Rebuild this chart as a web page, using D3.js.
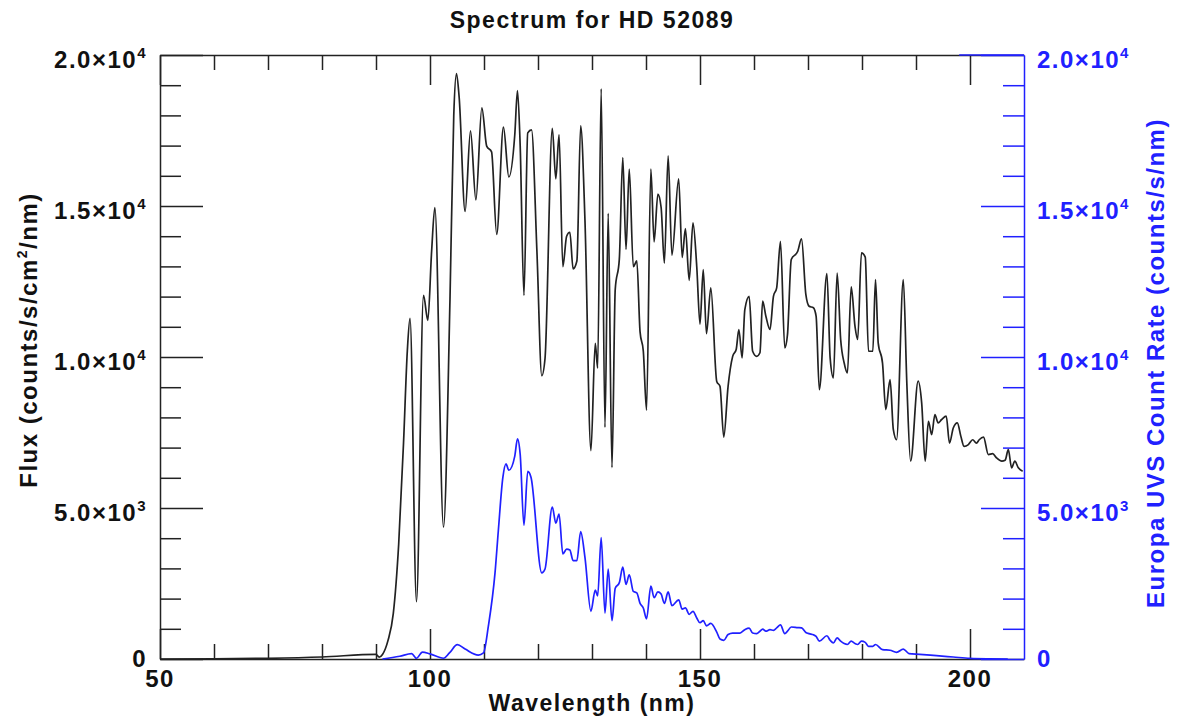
<!DOCTYPE html>
<html>
<head>
<meta charset="utf-8">
<script src="https://cdn.jsdelivr.net/npm/d3@7"></script>
<style>
  body { margin: 0; background: #fff; }
  text { font-family: "Liberation Sans", Arial, sans-serif; font-weight: bold; letter-spacing: 1.5px; }
</style>
</head>
<body>
<svg id="chart" width="1177" height="719"></svg>
<script>
// stellar flux, counts/s/cm^2/nm
var fluxWave = [50,60,70,80,90,90.6,91.2,92.2,93.2,94.2,95.1,95.8,96.3,97.5,98.8,99.6,100.3,100.9,102.5,103.7,104.4,104.9,105.4,106.5,107.5,108.5,109.6,110.5,111.4,112.35,113.6,114.6,115.7,116.2,116.7,117.4,118.1,118.8,119.8,120.7,121.3,122.65,123.3,123.9,124.6,125.3,125.9,126.5,127.2,127.9,128.7,129.8,130.6,131.05,131.7,132.4,133.0,133.7,134.3,135.06,135.7,136.3,136.9,137.65,138.3,138.9,139.5,140.1,140.9,141.5,142.2,142.8,143.4,144.1,144.8,146.05,146.7,147.3,148.0,148.7,149.4,150,150.6,151.2,152,153.1,153.7,154.4,155.2,156.05,156.7,157.2,157.8,158.3,159.1,159.75,160.5,161.1,161.6,162.2,162.96,163.6,164.2,164.9,165.7,166.2,166.9,168.1,168.8,169.6,170.2,171.0,171.5,172.1,173.5,174.1,174.7,175.4,176.05,176.7,177.3,178.0,178.7,179.2,179.9,180.6,181.2,182.0,182.5,183.0,183.8,184.4,185.2,185.8,186.4,187.65,188.3,189.0,190.4,191.05,191.7,192.3,192.9,193.5,194.1,194.75,195.6,196.2,196.9,197.65,198.3,198.9,199.7,200.5,201.2,201.7,202.5,203.4,204.2,204.9,205.9,206.5,207.1,207.7,208.3,208.95,209.75];
var fluxValue = [0,5,22,66,155,60,150,600,1500,3800,7160,10200,11280,1900,12040,11210,13500,14950,4370,11900,18000,19385,18600,14820,17490,15200,18250,16980,16790,14060,17610,15960,17360,18820,17000,12040,17420,17520,13500,9380,9950,17570,15900,17360,12990,14000,14130,12920,13180,17650,14510,6900,10450,9630,18880,7670,14760,6340,12230,13240,16600,13560,16220,12990,13180,10830,10200,8240,16220,13810,15390,14950,13110,16660,13370,15900,13300,14250,12540,14440,12990,11090,12890,10770,12290,9190,9030,7350,9030,10020,10250,10910,9970,11570,12010,10190,10020,10140,11850,11350,10910,12010,12290,13830,10300,10740,13230,13500,13910,12070,11680,11630,11350,8920,12760,9970,9310,12780,10580,9800,9470,12320,11020,10580,13450,13310,10190,10190,12560,10470,9800,8260,9250,7600,7260,12560,9140,6550,9200,8480,6550,7870,7430,8090,7820,7930,8040,7150,7650,7820,7380,7040,7100,7260,7150,7260,7350,6770,6800,6660,6550,6580,6930,6330,6550,6330,6220];

// Europa UVS count rate, counts/s/nm
var uvsWave = [91.2,94.4,96.6,97.5,98.6,100,102.5,103.6,105.06,106.5,108.95,109.9,110.8,112.04,112.65,113.5,114.07,114.6,115.7,116.2,116.7,117.4,118.1,118.7,120.7,121.3,122.65,123.3,123.9,124.6,125.3,125.9,126.5,127.2,127.9,128.7,129.8,130.6,131.05,131.7,132.4,133.0,133.7,134.3,135.06,135.7,136.3,136.9,137.65,138.3,138.9,139.5,140.1,140.9,141.5,142.2,142.8,143.4,144.1,144.8,146.05,146.7,147.3,148.0,148.7,149.4,150,150.6,151.2,152,153.1,153.7,154.4,155.2,156.05,157.4,158.3,159.1,159.75,160.5,161.1,161.6,162.2,162.96,163.6,164.2,164.9,165.7,166.2,166.9,168.1,168.8,169.6,170.2,171.0,171.5,172.1,173.5,174.1,174.7,175.4,176.05,176.7,177.3,178.0,178.7,179.2,179.9,180.6,181.2,182.0,182.5,183.8,185.2,186.4,187.65,188.7,190.7,193.8,196.9,200,203.7,207];
var uvsRate = [0,90,180,25,230,170,25,200,475,330,130,200,1080,2850,4240,6020,6460,6250,6720,7290,6780,4430,6210,6020,2850,2980,5030,4500,4800,3480,3640,3610,3260,3260,4220,3360,1580,2280,2090,4020,1520,2980,1270,2340,2530,3040,2470,2790,2240,2190,1840,1690,1330,2410,2030,2220,2150,1840,2220,1770,1960,1650,1690,1480,1580,1360,1200,1270,1100,1180,890,660,620,810,860,860,970,1020,860,840,920,990,920,970,950,1030,1130,840,920,1060,1040,1030,880,840,800,750,590,770,620,530,700,590,510,480,590,510,480,590,550,420,420,480,310,290,220,330,180,155,110,66,22,5,0];

var xMajor = [50, 100, 150, 200];
var xMinor = [60, 70, 80, 90, 110, 120, 130, 140, 160, 170, 180, 190];
var yMajor = [0, 5000, 10000, 15000, 20000];
var yMinor = [1000,2000,3000,4000,6000,7000,8000,9000,11000,12000,13000,14000,16000,17000,18000,19000];
var yMantissa = ["0", "5.0", "1.0", "1.5", "2.0"];
var yExponent = ["", "3", "4", "4", "4"];

var blue = "#2020ff";
var ink = "#222";

var svg = d3.select("#chart");
var x = d3.scaleLinear().domain([50, 210]).range([160, 1024]);
var y = d3.scaleLinear().domain([0, 20000]).range([659, 55]);

function drawAxis(gen, tx, ty, color, keepDomain) {
  var g = svg.append("g").attr("transform", "translate(" + tx + "," + ty + ")").call(gen);
  g.selectAll("line").attr("stroke", color).attr("stroke-width", 1.5);
  g.select(".domain").attr("stroke", color).attr("stroke-width", 1.5);
  if (!keepDomain) g.select(".domain").remove();
  g.selectAll("text").remove();
  return g;
}

// bottom / top
drawAxis(d3.axisTop(x).tickValues(xMajor).tickSize(30).tickSizeOuter(0), 0, 659, ink, true);
drawAxis(d3.axisTop(x).tickValues(xMinor).tickSize(15), 0, 659, ink, false);
drawAxis(d3.axisBottom(x).tickValues(xMajor).tickSize(30).tickSizeOuter(0), 0, 55, ink, true);
drawAxis(d3.axisBottom(x).tickValues(xMinor).tickSize(15), 0, 55, ink, false);
svg.append("line").attr("x1", x(198)).attr("x2", x(210)).attr("y1", 55).attr("y2", 55)
  .attr("stroke", blue).attr("stroke-width", 1.5);
// left / right
drawAxis(d3.axisRight(y).tickValues(yMajor).tickSize(43).tickSizeOuter(0), 160, 0, ink, true);
drawAxis(d3.axisRight(y).tickValues(yMinor).tickSize(21), 160, 0, ink, false);
drawAxis(d3.axisLeft(y).tickValues(yMajor).tickSize(43).tickSizeOuter(0), 1024, 0, blue, true);
drawAxis(d3.axisLeft(y).tickValues(yMinor).tickSize(21), 1024, 0, blue, false);

// lines
var fluxPts = fluxWave.map(function (w, i) { return [w, fluxValue[i]]; });
var uvsPts = uvsWave.map(function (w, i) { return [w, uvsRate[i]]; });
var line = d3.line().x(function (d) { return x(d[0]); }).y(function (d) { return y(d[1]); })
  .curve(d3.curveMonotoneX);
svg.append("path").attr("d", line(fluxPts)).attr("fill", "none").attr("stroke", ink).attr("stroke-width", 1.7);
svg.append("path").attr("d", line(uvsPts)).attr("fill", "none").attr("stroke", blue).attr("stroke-width", 1.7);

// tick labels
function yLabel(v, i, xPos, anchor, color) {
  var t = svg.append("text").attr("x", xPos).attr("y", v === 0 ? 667 : y(v) + 13)
    .attr("text-anchor", anchor).attr("fill", color).style("font-size", "24px");
  if (yExponent[i] === "") { t.text(yMantissa[i]); return; }
  t.append("tspan").text(yMantissa[i] + "\u00d710");
  t.append("tspan").attr("dy", -10).style("font-size", "15px").text(yExponent[i]);
}
yMajor.forEach(function (v, i) {
  yLabel(v, i, 147, "end", "#111");
  yLabel(v, i, 1037, "start", blue);
});
svg.selectAll(".xlab").data(xMajor).enter().append("text")
  .attr("x", function (d) { return x(d); }).attr("y", 687)
  .attr("text-anchor", "middle").attr("fill", "#111").style("font-size", "24px")
  .text(function (d) { return d; });

// titles
svg.append("text").attr("x", 592).attr("y", 28).attr("text-anchor", "middle")
  .attr("fill", "#111").style("font-size", "23px").text("Spectrum for HD 52089");
svg.append("text").attr("x", 592).attr("y", 711).attr("text-anchor", "middle")
  .attr("fill", "#111").style("font-size", "23px").text("Wavelength (nm)");

var lt = svg.append("text").attr("transform", "translate(37,340) rotate(-90)")
  .attr("text-anchor", "middle").attr("fill", "#111").style("font-size", "24px");
lt.append("tspan").text("Flux (counts/s/cm");
lt.append("tspan").attr("dy", -10).style("font-size", "14px").text("2");
lt.append("tspan").attr("dy", 10).text("/nm)");

svg.append("text").attr("transform", "translate(1164,363) rotate(-90)")
  .attr("text-anchor", "middle").attr("fill", blue).style("font-size", "24px")
  .text("Europa UVS Count Rate (counts/s/nm)");
</script>
</body>
</html>
